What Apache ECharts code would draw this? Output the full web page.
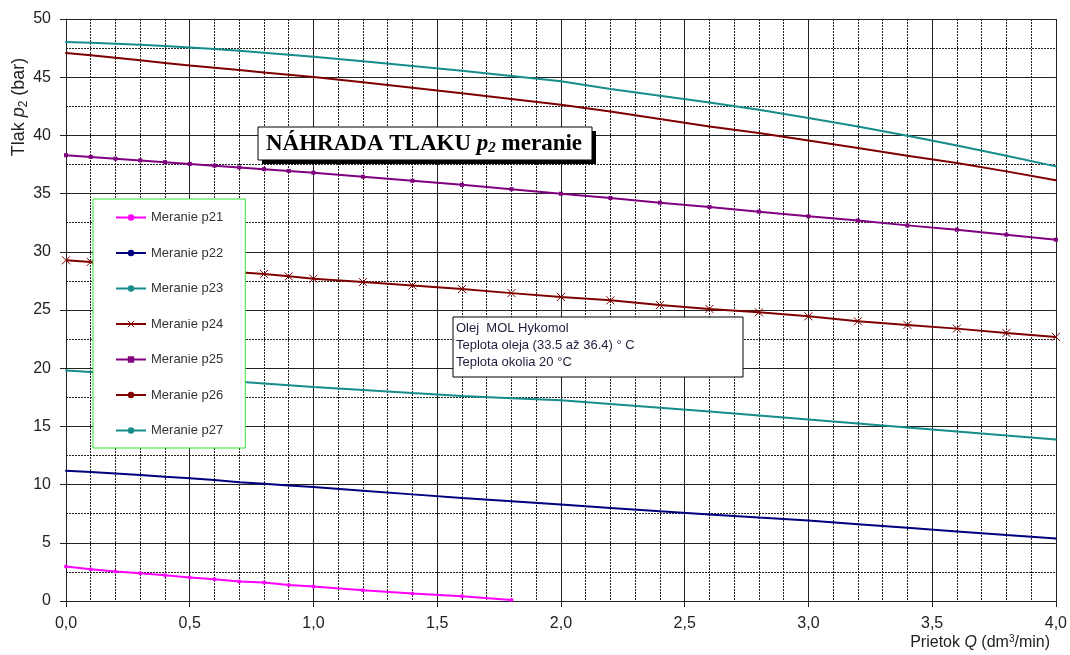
<!DOCTYPE html>
<html>
<head>
<meta charset="utf-8">
<script src="https://cdn.jsdelivr.net/npm/echarts@6/dist/echarts.min.js"></script>
<style>
  html, body { margin: 0; padding: 0; background: #fff; }
  #chart { width: 1070px; height: 655px; }
</style>
</head>
<body>
<div id="chart"></div>
<script>
// Flow rate Q (dm3/min) at the measured points
const flowQ = [0, 0.1, 0.2, 0.3, 0.4, 0.5, 0.6, 0.7, 0.8, 0.9, 1.0,
  1.2, 1.4, 1.6, 1.8, 2.0, 2.2, 2.4, 2.6, 2.8, 3.0, 3.2, 3.4, 3.6, 3.8, 4.0];

// Pressure p2 (bar) for each measurement
const p21 = [2.97, 2.73, 2.53, 2.39, 2.22, 2.02, 1.87, 1.67, 1.59, 1.38, 1.24, 0.92, 0.64, 0.41, 0.09];
const p22 = [11.2, 11.08, 10.95, 10.82, 10.68, 10.55, 10.4, 10.2, 10.07, 9.93, 9.8, 9.48, 9.16, 8.85, 8.57,
  8.29, 8.0, 7.71, 7.44, 7.17, 6.91, 6.6, 6.29, 5.98, 5.67, 5.37];
const p23 = [19.8, 19.67, 19.54, 19.4, 19.26, 19.12, 18.98, 18.83, 18.69, 18.54, 18.39, 18.13, 17.86, 17.62, 17.42,
  17.24, 16.92, 16.6, 16.27, 15.93, 15.59, 15.25, 14.91, 14.56, 14.21, 13.87];
const p24 = [29.27, 29.13, 29.0, 28.85, 28.7, 28.55, 28.4, 28.25, 28.1, 27.89, 27.69, 27.4, 27.1, 26.8, 26.45,
  26.12, 25.83, 25.43, 25.09, 24.8, 24.46, 24.03, 23.72, 23.4, 23.03, 22.69];
const p25 = [38.3, 38.15, 38.0, 37.85, 37.7, 37.55, 37.4, 37.25, 37.1, 36.95, 36.8, 36.45, 36.1, 35.75, 35.38,
  34.99, 34.62, 34.22, 33.85, 33.45, 33.05, 32.68, 32.27, 31.9, 31.47, 31.04];
const p26 = [47.08, 46.88, 46.67, 46.45, 46.23, 46.01, 45.81, 45.61, 45.41, 45.22, 45.02, 44.57, 44.1, 43.62, 43.13,
  42.64, 42.06, 41.41, 40.77, 40.21, 39.57, 38.92, 38.26, 37.63, 36.91, 36.14];
const p27 = [48.02, 47.95, 47.87, 47.78, 47.68, 47.56, 47.42, 47.27, 47.1, 46.93, 46.75, 46.37, 45.96, 45.55, 45.11,
  44.65, 43.98, 43.41, 42.83, 42.21, 41.49, 40.77, 39.97, 39.14, 38.26, 37.34];

const seriesNames = ['Meranie p21', 'Meranie p22', 'Meranie p23', 'Meranie p24', 'Meranie p25', 'Meranie p26', 'Meranie p27'];
const seriesValues = [p21, p22, p23, p24, p25, p26, p27];
const seriesColors = ['#ff00ff', '#000080', '#168c8c', '#800000', '#800080', '#800000', '#168c8c'];
const seriesSymbols = ['circle', 'circle', 'circle', 'path://M0,0L10,10M10,0L0,10', 'rect', 'circle', 'circle'];
const seriesSymbolSizes = [4, 2, 2, 8, 4, 2, 2];
const legendSymbolSizes = [4, 3, 3, 9, 5, 3, 3];

const chart = echarts.init(document.getElementById('chart'), null, { renderer: 'canvas' });

const series = seriesNames.map((name, i) => ({
  name: name,
  type: 'line',
  data: seriesValues[i].map((v, k) => [flowQ[k], v]),
  smooth: false,
  symbol: seriesSymbols[i],
  symbolSize: seriesSymbolSizes[i],
  showSymbol: true,
  lineStyle: { color: seriesColors[i], width: 2 },
  itemStyle: { color: seriesColors[i], borderColor: seriesColors[i], borderWidth: i === 3 ? 1 : 0 },
  emphasis: { disabled: true },
  z: 3
}));

const gridDash = { color: '#222', width: 1, type: [2, 1] };
const sans = 'Liberation Sans, Arial, sans-serif';
const serif = 'Liberation Serif, Times New Roman, serif';

chart.setOption({
  animation: false,
  backgroundColor: '#ffffff',
  grid: { left: 66, right: 14, top: 19, bottom: 54 },
  xAxis: {
    type: 'value',
    min: 0, max: 4, interval: 0.5,
    axisLine: { show: true, lineStyle: { color: '#222', width: 1 } },
    axisTick: { show: true, length: 6, lineStyle: { color: '#222' } },
    axisLabel: {
      margin: 15, fontSize: 16, fontFamily: sans, color: '#222',
      formatter: v => v.toFixed(1).replace('.', ',')
    },
    splitLine: { show: true, lineStyle: { color: '#222', width: 1 } },
    minorTick: { show: false, splitNumber: 5 },
    minorSplitLine: { show: true, lineStyle: gridDash }
  },
  yAxis: {
    type: 'value',
    min: 0, max: 50, interval: 5,
    axisLine: { show: true, lineStyle: { color: '#222', width: 1 } },
    axisTick: { show: true, length: 6, lineStyle: { color: '#222' } },
    axisLabel: { margin: 15, fontSize: 16, fontFamily: sans, color: '#222' },
    splitLine: { show: true, lineStyle: { color: '#222', width: 1 } },
    minorTick: { show: false, splitNumber: 2 },
    minorSplitLine: { show: true, lineStyle: gridDash }
  },
  legend: {
    orient: 'vertical',
    left: 93, top: 199,
    padding: [12, 22, 11, 22],
    itemWidth: 30, itemHeight: 8, itemGap: 22.5,
    backgroundColor: '#ffffff',
    borderColor: '#33e033', borderWidth: 1,
    textStyle: { fontSize: 13, fontFamily: sans, color: '#333' },
    data: seriesNames.map((n, i) => ({
      name: n,
      itemStyle: { borderWidth: i === 3 ? 1 : 0 },
      symbolSize: legendSymbolSizes[i]
    }))
  },
  series: series,
  graphic: [
    // y-axis name
    {
      type: 'text', x: 19, y: 107, rotation: Math.PI / 2, z: 10,
      style: {
        text: '{n|Tlak }{i|p}{s|2}{n| (bar)}',
        align: 'center', verticalAlign: 'middle',
        fill: '#222',
        rich: {
          n: { fontSize: 18, fontFamily: sans, fill: '#222' },
          i: { fontSize: 18, fontStyle: 'italic', fontFamily: sans, fill: '#222' },
          s: { fontSize: 12, fontFamily: sans, fill: '#222', padding: [9, 0, 0, 0] }
        }
      }
    },
    // x-axis name
    {
      type: 'text', x: 1050, y: 643, z: 10,
      style: {
        text: '{n|Prietok }{i|Q}{n| (dm}{s|3}{n|/min)}',
        align: 'right', verticalAlign: 'middle',
        fill: '#222',
        rich: {
          n: { fontSize: 16, fontFamily: sans, fill: '#222' },
          i: { fontSize: 16, fontStyle: 'italic', fontFamily: sans, fill: '#222' },
          s: { fontSize: 10, fontFamily: sans, fill: '#222', padding: [0, 0, 7, 0] }
        }
      }
    },
    // title box with drop shadow
    { type: 'rect', shape: { x: 262, y: 131, width: 334, height: 33 }, style: { fill: '#000' }, z: 10 },
    { type: 'rect', shape: { x: 258, y: 127, width: 334, height: 33 }, style: { fill: '#fff', stroke: '#000', lineWidth: 1 }, z: 11 },
    {
      type: 'text', x: 424, y: 144, z: 12,
      style: {
        text: '{b|NÁHRADA TLAKU }{bi|p}{bs|2}{b| meranie}',
        align: 'center', verticalAlign: 'middle',
        fill: '#000',
        rich: {
          b: { fontSize: 23, fontWeight: 'bold', fontFamily: serif, fill: '#000' },
          bi: { fontSize: 23, fontWeight: 'bold', fontStyle: 'italic', fontFamily: serif, fill: '#000' },
          bs: { fontSize: 15, fontWeight: 'bold', fontStyle: 'italic', fontFamily: serif, fill: '#000', padding: [9, 0, 0, 0] }
        }
      }
    },
    // oil / temperature note
    { type: 'rect', shape: { x: 453, y: 317, width: 290, height: 60 }, style: { fill: '#fff', stroke: '#000', lineWidth: 1 }, z: 10 },
    {
      type: 'text', x: 456, y: 320, z: 11,
      style: {
        text: 'Olej  MOL Hykomol\nTeplota oleja (33.5 až 36.4) ° C\nTeplota okolia 20 °C',
        fontSize: 13, lineHeight: 17,
        fontFamily: sans,
        fill: '#1e1e3c',
        align: 'left', verticalAlign: 'top'
      }
    }
  ]
});
</script>
</body>
</html>
